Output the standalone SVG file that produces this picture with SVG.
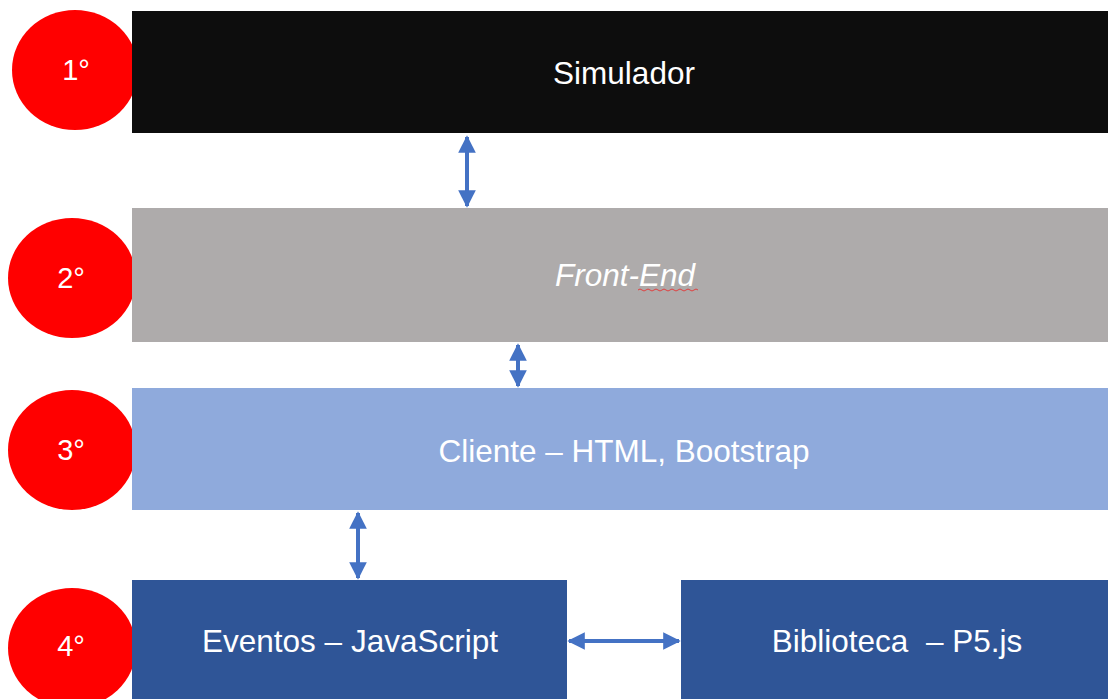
<svg xmlns="http://www.w3.org/2000/svg" width="1108" height="699" viewBox="0 0 1108 699">
<defs>
<marker id="ah" viewBox="0 0 10 10" refX="9" refY="5" markerWidth="4.4" markerHeight="4.4" orient="auto-start-reverse" markerUnits="strokeWidth">
<path d="M0,0 L10,5 L0,10 Z" fill="#4472c4"/>
</marker>
</defs>
<style>
.lbl{font-family:"Liberation Sans",Arial,sans-serif;font-size:31.5px;fill:#ffffff;text-anchor:middle;dominant-baseline:central}
.num{font-family:"Liberation Sans",Arial,sans-serif;font-size:29px;fill:#ffffff;text-anchor:middle;dominant-baseline:central}
.circ{fill:#ff0000}
.conn{stroke:#4472c4;stroke-width:4;fill:none;marker-start:url(#ah);marker-end:url(#ah)}
</style>
<rect width="1108" height="699" fill="#ffffff"/>
<g id="badge1"><ellipse class="circ" cx="75" cy="70" rx="63" ry="60"/></g>
<g id="badge2"><ellipse class="circ" cx="72" cy="278" rx="64" ry="60"/></g>
<g id="badge3"><ellipse class="circ" cx="72" cy="450" rx="64" ry="60"/></g>
<g id="badge4"><ellipse class="circ" cx="72" cy="648" rx="64" ry="60"/></g>
<g id="simulador">
<rect x="132" y="11" width="976" height="122" fill="#0d0d0d"/>
<text class="lbl" x="624" y="73">Simulador</text>
</g>
<g id="frontend">
<rect x="132" y="208" width="976" height="134" fill="#aeabab"/>
<text class="lbl" x="625" y="275" font-style="italic">Front-End</text>
<path d="M638,290 q2,-2 4,0 t4,0 t4,0 t4,0 t4,0 t4,0 t4,0 t4,0 t4,0 t4,0 t4,0 t4,0 t4,0 t4,0 t4,0" fill="none" stroke="#e04040" stroke-width="1"/>
</g>
<g id="cliente">
<rect x="132" y="388" width="976" height="122" fill="#8faadc"/>
<text class="lbl" x="624" y="451">Cliente – HTML, Bootstrap</text>
</g>
<g id="eventos">
<rect x="132" y="580" width="435" height="119" fill="#2f5597"/>
<text class="lbl" x="350" y="641">Eventos – JavaScript</text>
</g>
<g id="biblioteca">
<rect x="681" y="580" width="427" height="119" fill="#2f5597"/>
<text class="lbl" x="897" y="641" xml:space="preserve">Biblioteca  – P5.js</text>
</g>
<g id="labels">
<text class="num" x="76" y="70">1°</text>
<text class="num" x="71" y="278">2°</text>
<text class="num" x="71" y="450">3°</text>
<text class="num" x="71" y="646">4°</text>
</g>
<g id="connectors">
<line class="conn" x1="467" y1="137" x2="467" y2="206"/>
<line class="conn" x1="518" y1="345" x2="518" y2="386"/>
<line class="conn" x1="358" y1="513" x2="358" y2="578"/>
<line class="conn" x1="569" y1="641" x2="679" y2="641"/>
</g>
</svg>
